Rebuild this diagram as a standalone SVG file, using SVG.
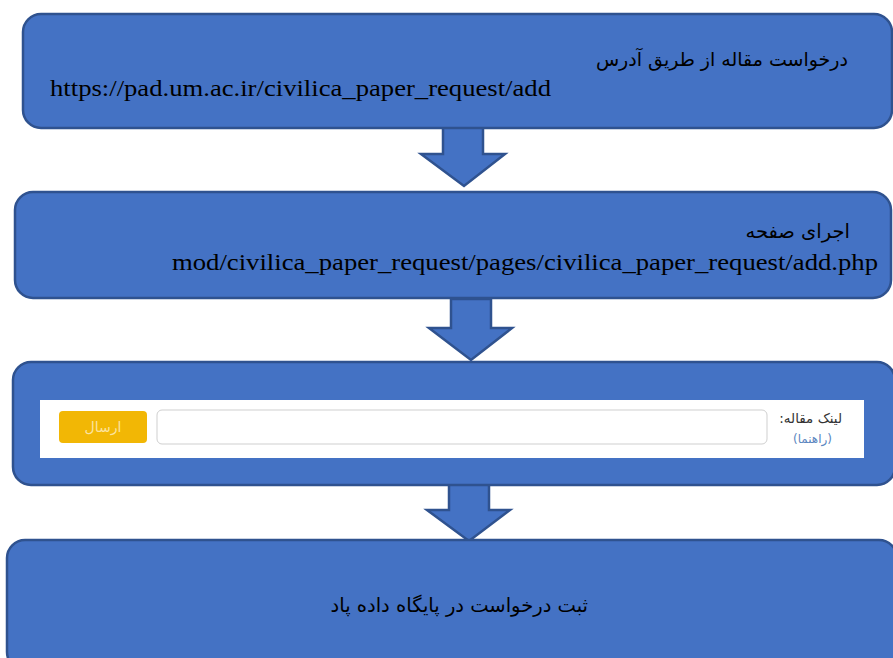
<svg xmlns="http://www.w3.org/2000/svg" width="893" height="658" viewBox="0 0 893 658">
<style>
.box{fill:#4472C4;stroke:#2F528F;stroke-width:2.5}
.arr{fill:#4472C4;stroke:#2F528F;stroke-width:2.5;stroke-linejoin:miter}
.fa{font-family:"DejaVu Sans","Noto Sans",sans-serif;fill:#000;direction:rtl;unicode-bidi:embed}
.en{font-family:"Liberation Serif","Times New Roman",serif;fill:#000}
</style>
<rect width="893" height="658" fill="#fff"/>
<g id="connectors">
<polygon class="arr" points="443,127 483,127 483,154 505,154 464,186 421,154 443,154"/>
<polygon class="arr" points="451,299 491,299 491,328 512,328 471,360 429,328 451,328"/>
<polygon class="arr" points="449,481 489,481 489,510 510,510 469,541 427,510 449,510"/>
</g>
<g id="node1">
<rect class="box" x="23" y="14" width="869" height="114" rx="18"/>
<text class="fa" x="848" y="66" font-size="19" direction="rtl" text-anchor="start">درخواست مقاله از طریق آدرس</text>
<text class="en" x="50" y="96" font-size="23" textLength="501" lengthAdjust="spacingAndGlyphs">https://pad.um.ac.ir/civilica_paper_request/add</text>
</g>
<g id="node2">
<rect class="box" x="15" y="192" width="876" height="106" rx="18"/>
<text class="fa" x="850" y="238" font-size="19.5" direction="rtl" text-anchor="start">اجرای صفحه</text>
<text class="en" x="172" y="270" font-size="23" textLength="706" lengthAdjust="spacingAndGlyphs">mod/civilica_paper_request/pages/civilica_paper_request/add.php</text>
</g>
<g id="node3">
<rect class="box" x="13" y="362" width="882" height="123" rx="18"/>
<rect x="40" y="400" width="824" height="58" fill="#fff"/>
<rect x="59" y="411" width="88" height="32" rx="4" fill="#F2B705"/>
<text class="fa" x="103" y="432" font-size="14" direction="rtl" text-anchor="middle" style="fill:#FBE3A0">ارسال</text>
<rect x="157" y="410" width="610" height="34" rx="5" fill="#fff" stroke="#CFCFCF" stroke-width="1"/>
<text class="fa" x="842" y="423" font-size="13.5" direction="rtl" text-anchor="start" style="fill:#333">لینک مقاله:</text>
<text class="fa" x="832" y="443" font-size="12" direction="rtl" text-anchor="start" style="fill:#5B86C0">(راهنما)</text>
</g>
<g id="node4">
<rect class="box" x="7" y="540" width="890" height="130" rx="18"/>
<text class="fa" x="588" y="612" font-size="19.5" direction="rtl" text-anchor="start">ثبت درخواست در پایگاه داده پاد</text>
</g>
</svg>
